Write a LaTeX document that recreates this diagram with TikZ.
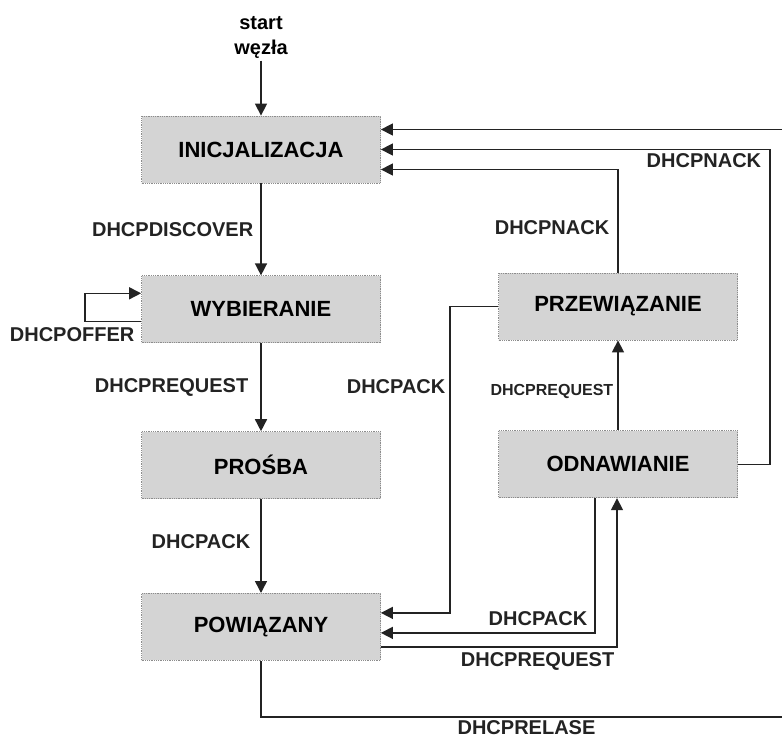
\documentclass[tikz,border=0pt]{standalone}
\usepackage{fontspec}
\setmainfont{Liberation Sans}
\definecolor{boxgray}{RGB}{212, 212, 212}
\definecolor{edgegray}{RGB}{140, 140, 140}
\definecolor{linedark}{RGB}{35, 35, 35}
\usetikzlibrary{arrows.meta,positioning,calc}

\begin{document}
\begin{tikzpicture}[x=1pt, y=1pt,
    state/.style={rectangle, draw=edgegray, densely dotted, line width=0.8pt, fill=boxgray,
        minimum width=239pt, minimum height=67pt, inner sep=0pt,
        font=\fontsize{22}{26}\selectfont\bfseries},
    lbl/.style={inner sep=2pt, font=\fontsize{20}{24}\selectfont\bfseries},
    smalllbl/.style={inner sep=2pt, font=\fontsize{16}{19}\selectfont\bfseries},
    flow/.style={line width=1.5pt, color=linedark, -{Triangle[length=12pt, width=12pt]}}]
    \useasboundingbox (0,0) rectangle (782,740);

    % Left column
    \node[state] (init) at (261,590.5) {INICJALIZACJA};
    \node[state, below=92pt of init] (select) {WYBIERANIE};
    \node[state, below=88pt of select] (request) {PROŚBA};
    \node[state, below=94pt of request] (bound) {POWIĄZANY};

    % Right column
    \node[state] (rebind) at (618,433.5) {PRZEWIĄZANIE};
    \node[state, below=90pt of rebind] (renew) {ODNAWIANIE};

    \node[lbl, align=center, font=\fontsize{20}{25}\selectfont\bfseries] (startlbl) at (261,702.5) {start\\węzła};
    \coordinate (relcorner) at (792,23);

    \draw[flow] (startlbl) -- (init);
    \draw[flow] (init) -- node[lbl, left=5pt] {DHCPDISCOVER} (select);
    \draw[flow] (select) -- node[lbl, left=10pt] {DHCPREQUEST} (request);
    \draw[flow] (request) -- node[lbl, left=8pt, pos=0.45] {DHCPACK} (bound);
    \draw[flow] ([yshift=-12pt]select.west) -- ++(-56,0) node[lbl, below=3pt, xshift=-13pt] {DHCPOFFER}
        |- ([yshift=16pt]select.west);

    % Back to the start
    \draw[flow] (rebind) |- node[lbl, left=6pt, pos=0.22] {DHCPNACK} ([yshift=-20pt]init.east);
    \draw[flow] (renew.east) -- ++(32,0) |- node[lbl, pos=0.5, below left=1pt and 6pt] {DHCPNACK} (init.east);
    \draw[flow] (bound) |- node[lbl, pos=0.75, below=1pt] {DHCPRELASE} (relcorner)
        |- ([yshift=20pt]init.east);

    % Lease renewal
    \draw[flow] (renew) -- node[smalllbl, left=2pt, pos=0.43] {DHCPREQUEST} (rebind);
    \draw[flow] (rebind.west) -- ++(-48,0) |- node[lbl, pos=0.13, left=2pt] {DHCPACK} ([yshift=14pt]bound.east);
    \draw[flow] ([xshift=-23pt]renew.south) |- node[lbl, pos=0.5, above left=4pt and 5pt] {DHCPACK} ([yshift=-6pt]bound.east);
    \draw[flow] ([yshift=-20pt]bound.east) -| node[lbl, pos=0.5, below left=3pt and 0pt] {DHCPREQUEST} ([xshift=-1pt]renew.south);
\end{tikzpicture}
\end{document}
